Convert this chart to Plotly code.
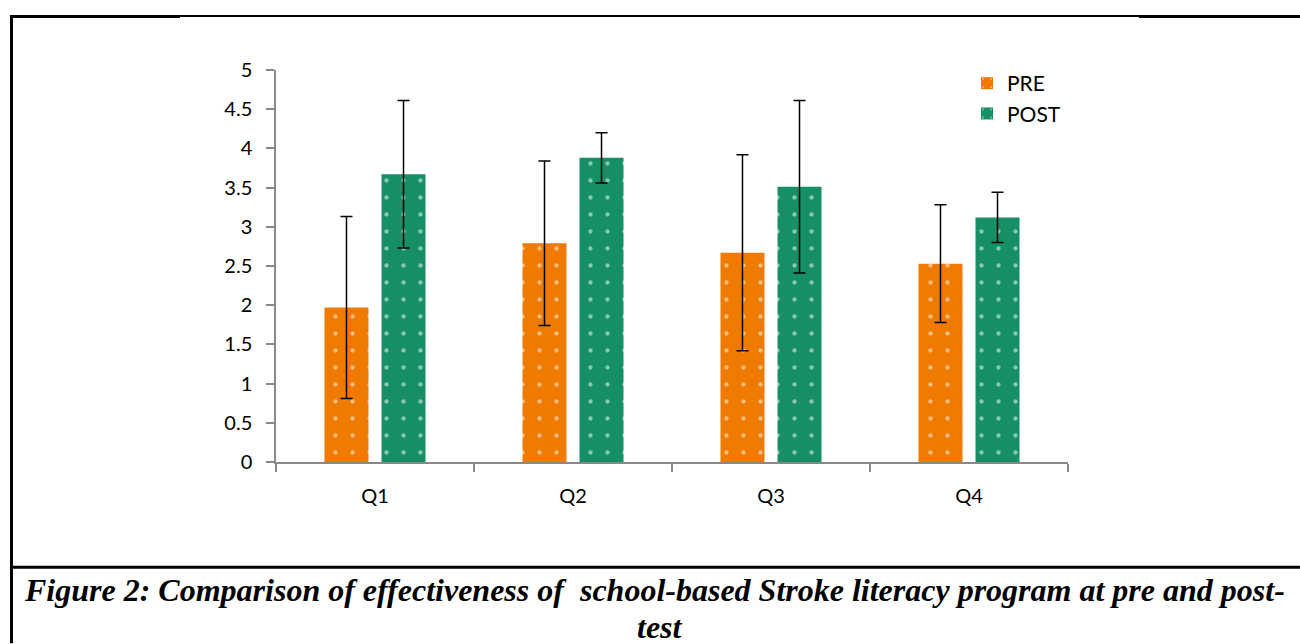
import plotly.graph_objects as go

categories = ["Q1", "Q2", "Q3", "Q4"]
pre_values = [1.97, 2.79, 2.67, 2.53]
pre_errors = [1.16, 1.05, 1.25, 0.75]
post_values = [3.67, 3.88, 3.51, 3.12]
post_errors = [0.94, 0.32, 1.10, 0.32]
series_names = ["PRE", "POST"]
caption_line1 = "Figure 2: Comparison of effectiveness of  school-based Stroke literacy program at pre and post-"
caption_line2 = "test"

ORANGE = "#EE7B00"
GREEN = "#158F63"

# plot area in pixels
L, R, T, B = 276, 1068, 70, 462.5
W, H = 1300, 644

def px(x):
    return (x - L) / (R - L)

def py(y):
    return (B - y) / (B - T)

fig = go.Figure()
for name, vals, errs, col in [
    (series_names[0], pre_values, pre_errors, ORANGE),
    (series_names[1], post_values, post_errors, GREEN),
]:
    fig.add_trace(go.Bar(
        x=categories, y=vals, name=name,
        marker=dict(color=col, line=dict(width=0),
                    pattern=dict(shape=".", fgcolor="white", bgcolor=col,
                                 size=17, solidity=0.05, fillmode="overlay")),
        error_y=dict(type="data", array=errs, visible=True,
                     color="black", thickness=1.5, width=6),
    ))

shapes = []
line_black = dict(color="black", width=2)
# top frame line
shapes.append(dict(type="line", xref="paper", yref="paper",
                   x0=px(11), x1=px(1300), y0=py(16), y1=py(16), line=line_black))
shapes.append(dict(type="line", xref="paper", yref="paper",
                   x0=px(11), x1=px(180), y0=py(16.5), y1=py(16.5), line=dict(color="black", width=3)))
shapes.append(dict(type="line", xref="paper", yref="paper",
                   x0=px(1139), x1=px(1300), y0=py(16.5), y1=py(16.5), line=dict(color="black", width=3)))
# left border
shapes.append(dict(type="line", xref="paper", yref="paper",
                   x0=px(11.5), x1=px(11.5), y0=py(15), y1=py(644), line=dict(color="black", width=3)))
# caption separator
shapes.append(dict(type="line", xref="paper", yref="paper",
                   x0=px(11), x1=px(1300), y0=py(568), y1=py(568), line=dict(color="black", width=3)))

cap_font = dict(family="Liberation Serif", size=32, color="black", style="italic", weight="bold")
annotations = [
    dict(text=caption_line1, xref="paper", yref="paper", x=px(654), y=py(591),
         xanchor="center", yanchor="middle", showarrow=False, font=cap_font),
    dict(text=caption_line2, xref="paper", yref="paper", x=px(660), y=py(628),
         xanchor="center", yanchor="middle", showarrow=False, font=cap_font),
]

axis_col = "#898989"
tick_font = dict(family="Lato", size=20, color="black")
fig.update_layout(
    width=W, height=H,
    margin=dict(l=L, r=W - R, t=T, b=H - B, autoexpand=False),
    paper_bgcolor="white", plot_bgcolor="white",
    barmode="group", bargap=0.424, bargroupgap=0.228,
    font=dict(family="Lato", size=20, color="black"),
    showlegend=True,
    legend=dict(x=px(967), y=py(63), xanchor="left", yanchor="top",
                font=dict(family="Lato", size=21, color="black"),
                bgcolor="rgba(0,0,0,0)", tracegroupgap=0),
    shapes=shapes, annotations=annotations,
    xaxis=dict(showline=True, linecolor=axis_col, linewidth=1.5,
               ticks="outside", tickson="boundaries", ticklen=8, tickcolor=axis_col,
               tickwidth=1.5, ticklabelstandoff=15, showgrid=False, zeroline=False,
               tickfont=tick_font),
    yaxis=dict(range=[0, 5], dtick=0.5, tick0=0, showline=True, linecolor=axis_col,
               linewidth=1.5, ticks="outside", ticklen=8, tickcolor=axis_col, tickwidth=1.5,
               ticklabelstandoff=10, showgrid=False, zeroline=False,
               tickfont=tick_font),
)

fig.write_html("out.html", config={"displayModeBar": False},
               post_script="document.body.style.margin='0px';document.body.style.overflow='hidden';")
